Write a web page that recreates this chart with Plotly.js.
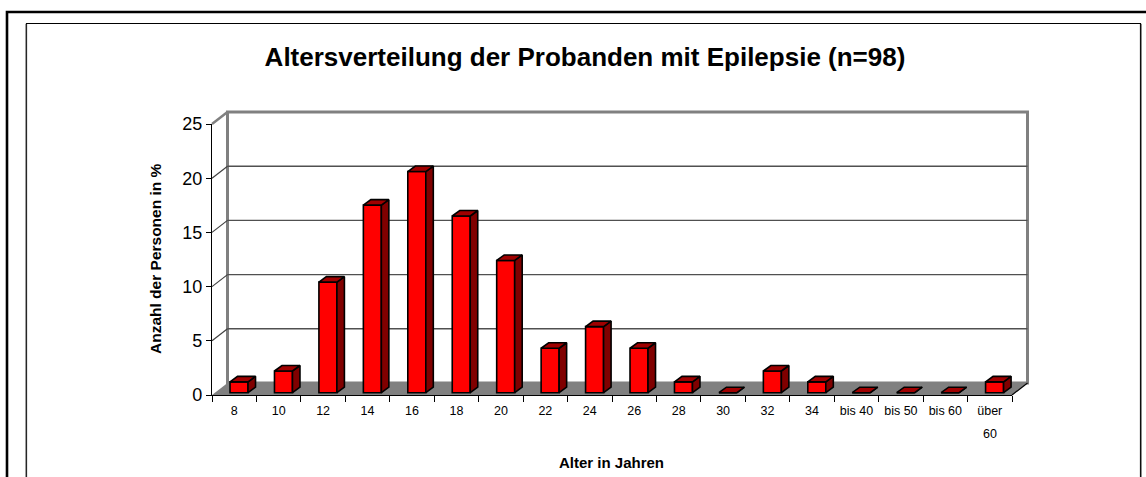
<!DOCTYPE html>
<html>
<head>
<meta charset="utf-8">
<script src="https://cdn.plot.ly/plotly-3.0.1.min.js"></script>
<style>
  html, body { margin: 0; padding: 0; background: #ffffff; }
  #chart { width: 1146px; height: 477px; }
</style>
</head>
<body>
<div id="chart"></div>
<script>
// Age groups (years) and share of subjects per group in percent (n = 98)
const categories = ['8', '10', '12', '14', '16', '18', '20', '22', '24', '26', '28', '30', '32', '34', 'bis 40', 'bis 50', 'bis 60', 'über 60'];
const tickLabels = ['8', '10', '12', '14', '16', '18', '20', '22', '24', '26', '28', '30', '32', '34', 'bis 40', 'bis 50', 'bis 60', 'über'];
const lastLabelSecondLine = '60';
const percentages = [1.0, 2.0, 10.2, 17.3, 20.4, 16.3, 12.2, 4.1, 6.1, 4.1, 1.0, 0, 2.0, 1.0, 0, 0, 0, 1.0];
const yTicks = [0, 5, 10, 15, 20, 25];

const FONT = 'Liberation Sans, Arial, Helvetica, sans-serif';

// Figure geometry (pixels)
const W = 1146, H = 477;
const L = 212, R = 1012, T = 124, B = 395;   // front plane of the plot
const DX = 15.5, DY = 12;                      // depth of the back wall
const YMAX = 25;
const N = categories.length;

const pw = R - L, ph = B - T;
const unitX = pw / N;        // pixels per category
const unitY = ph / YMAX;     // pixels per percent

// pixel -> paper helpers for decorative shapes
const px = v => (v - L) / pw;
const py = v => (B - v) / ph;

// bar block geometry, in axis units
const barW = 18 / unitX;       // front face width
const barOX = 4.8 / unitX;     // bar shift into depth (x)
const barOY = 2.3 / unitY;     // bar shift into depth (y)
const depX = 7.5 / unitX;      // bar depth (x)
const depY = 5.5 / unitY;      // bar depth (y)

// side and top faces of each block, built from the values
const sideX = [], sideY = [], topX = [], topY = [];
percentages.forEach((v, i) => {
  const xl = i + barOX - barW / 2, xr = i + barOX + barW / 2;
  const y0 = barOY, y1 = barOY + v;
  sideX.push(xr, xr + depX, xr + depX, xr, xr, null);
  sideY.push(y0, y0 + depY, y1 + depY, y1, y0, null);
  topX.push(xl, xl + depX, xr + depX, xr, xl, null);
  topY.push(y1, y1 + depY, y1 + depY, y1, y1, null);
});

const traces = [
  {
    type: 'bar',
    x: categories,
    y: percentages,
    base: percentages.map(() => barOY),
    width: barW,
    offset: barOX - barW / 2,
    marker: { color: '#ff0000', line: { color: '#000000', width: 1.6 } },
    hoverinfo: 'x+y',
    showlegend: false
  },
  {
    type: 'scatter', mode: 'lines', xaxis: 'x2', yaxis: 'y',
    x: sideX, y: sideY, fill: 'toself', fillcolor: '#800000',
    line: { color: '#000000', width: 1.6 }, hoverinfo: 'skip', showlegend: false, cliponaxis: false
  },
  {
    type: 'scatter', mode: 'lines', xaxis: 'x2', yaxis: 'y',
    x: topX, y: topY, fill: 'toself', fillcolor: '#a00000',
    line: { color: '#000000', width: 1.6 }, hoverinfo: 'skip', showlegend: false, cliponaxis: false
  }
];

// back wall, floor, gridlines and frames
const shapes = [];
const line = (x0, y0, x1, y1, color, width) => shapes.push({
  type: 'line', xref: 'paper', yref: 'paper', layer: 'below',
  x0: px(x0), y0: py(y0), x1: px(x1), y1: py(y1),
  line: { color: color, width: width }
});

// outer frames
shapes.push({ type: 'rect', xref: 'paper', yref: 'paper', layer: 'below',
  x0: px(7), y0: py(12), x1: px(W + 20), y1: py(H + 20),
  line: { color: '#000000', width: 2.6 }, fillcolor: 'rgba(0,0,0,0)' });
shapes.push({ type: 'rect', xref: 'paper', yref: 'paper', layer: 'below',
  x0: px(26.5), y0: py(23.5), x1: px(1140.5), y1: py(H + 20),
  line: { color: '#000000', width: 1.2 }, fillcolor: '#ffffff' });
line(25.8, 24, 25.8, H + 5, '#808080', 1);
line(1141.4, 24, 1141.4, H + 5, '#808080', 1);

// back wall
shapes.push({ type: 'rect', xref: 'paper', yref: 'paper', layer: 'below',
  x0: px(L + DX), y0: py(T - DY), x1: px(R + DX), y1: py(B - DY),
  line: { color: '#808080', width: 3 }, fillcolor: '#ffffff' });

// gridlines on the back wall and on the left side wall
yTicks.forEach(t => {
  if (t === 0) return;
  const yb = B - DY - t * unitY, yf = B - t * unitY;
  if (t < YMAX) line(L + DX, yb, R + DX, yb, '#505050', 1.4);
  line(L, yf, L + DX, yb, t === YMAX ? '#808080' : '#404040', t === YMAX ? 2.5 : 1.2);
});

// floor
shapes.push({ type: 'path', xref: 'paper', yref: 'paper', layer: 'below',
  path: `M${px(L)},${py(B)} L${px(R)},${py(B)} L${px(R + DX)},${py(B - DY)} L${px(L + DX)},${py(B - DY)} Z`,
  fillcolor: '#808080', line: { width: 0 } });
line(R, B, R + DX, B - DY, '#000000', 1.2);

const layout = {
  width: W, height: H,
  margin: { l: L, r: W - R, t: T, b: H - B, pad: 0 },
  paper_bgcolor: '#ffffff',
  plot_bgcolor: 'rgba(0,0,0,0)',
  font: { family: FONT, color: '#000000' },
  showlegend: false,
  title: {
    text: 'Altersverteilung der Probanden mit Epilepsie (n=98)',
    font: { family: FONT, size: 26, weight: 'bold', color: '#000000' },
    xref: 'container', yref: 'container',
    x: 585 / W, xanchor: 'center', y: 1 - 57 / H, yanchor: 'middle'
  },
  xaxis: {
    type: 'category',
    categoryorder: 'array', categoryarray: categories,
    tickmode: 'array', tickvals: categories, ticktext: tickLabels,
    range: [-0.5, N - 0.5],
    tickson: 'boundaries',
    ticks: 'outside', ticklen: 6, tickwidth: 1, tickcolor: '#000000',
    ticklabelstandoff: 4,
    showline: true, linecolor: '#000000', linewidth: 1.2,
    showgrid: false, zeroline: false,
    tickfont: { family: FONT, size: 12.5, color: '#000000' },
    fixedrange: true
  },
  xaxis2: {
    overlaying: 'x', range: [-0.5, N - 0.5], visible: false, fixedrange: true
  },
  yaxis: {
    range: [0, YMAX],
    tickmode: 'array', tickvals: yTicks,
    ticks: 'outside', ticklen: 5, tickwidth: 1, tickcolor: '#000000',
    showline: true, linecolor: '#000000', linewidth: 1.2,
    showgrid: false, zeroline: false,
    tickfont: { family: FONT, size: 18, color: '#000000' },
    fixedrange: true
  },
  annotations: [
    {
      text: 'Anzahl der Personen in %', textangle: -90,
      xref: 'paper', yref: 'paper', x: px(155), y: py(259),
      xanchor: 'center', yanchor: 'middle', showarrow: false,
      font: { family: FONT, size: 15.5, weight: 'bold', color: '#000000' }
    },
    {
      text: 'Alter in Jahren',
      xref: 'paper', yref: 'paper', x: px(611), y: py(462),
      xanchor: 'center', yanchor: 'middle', showarrow: false,
      font: { family: FONT, size: 15, weight: 'bold', color: '#000000' }
    },
    {
      text: lastLabelSecondLine,
      xref: 'x', yref: 'paper', x: categories[N - 1], y: py(434),
      xanchor: 'center', yanchor: 'middle', showarrow: false,
      font: { family: FONT, size: 12.5, color: '#000000' }
    }
  ],
  shapes: shapes
};

Plotly.newPlot('chart', traces, layout, { displayModeBar: false, staticPlot: true });
</script>
</body>
</html>
